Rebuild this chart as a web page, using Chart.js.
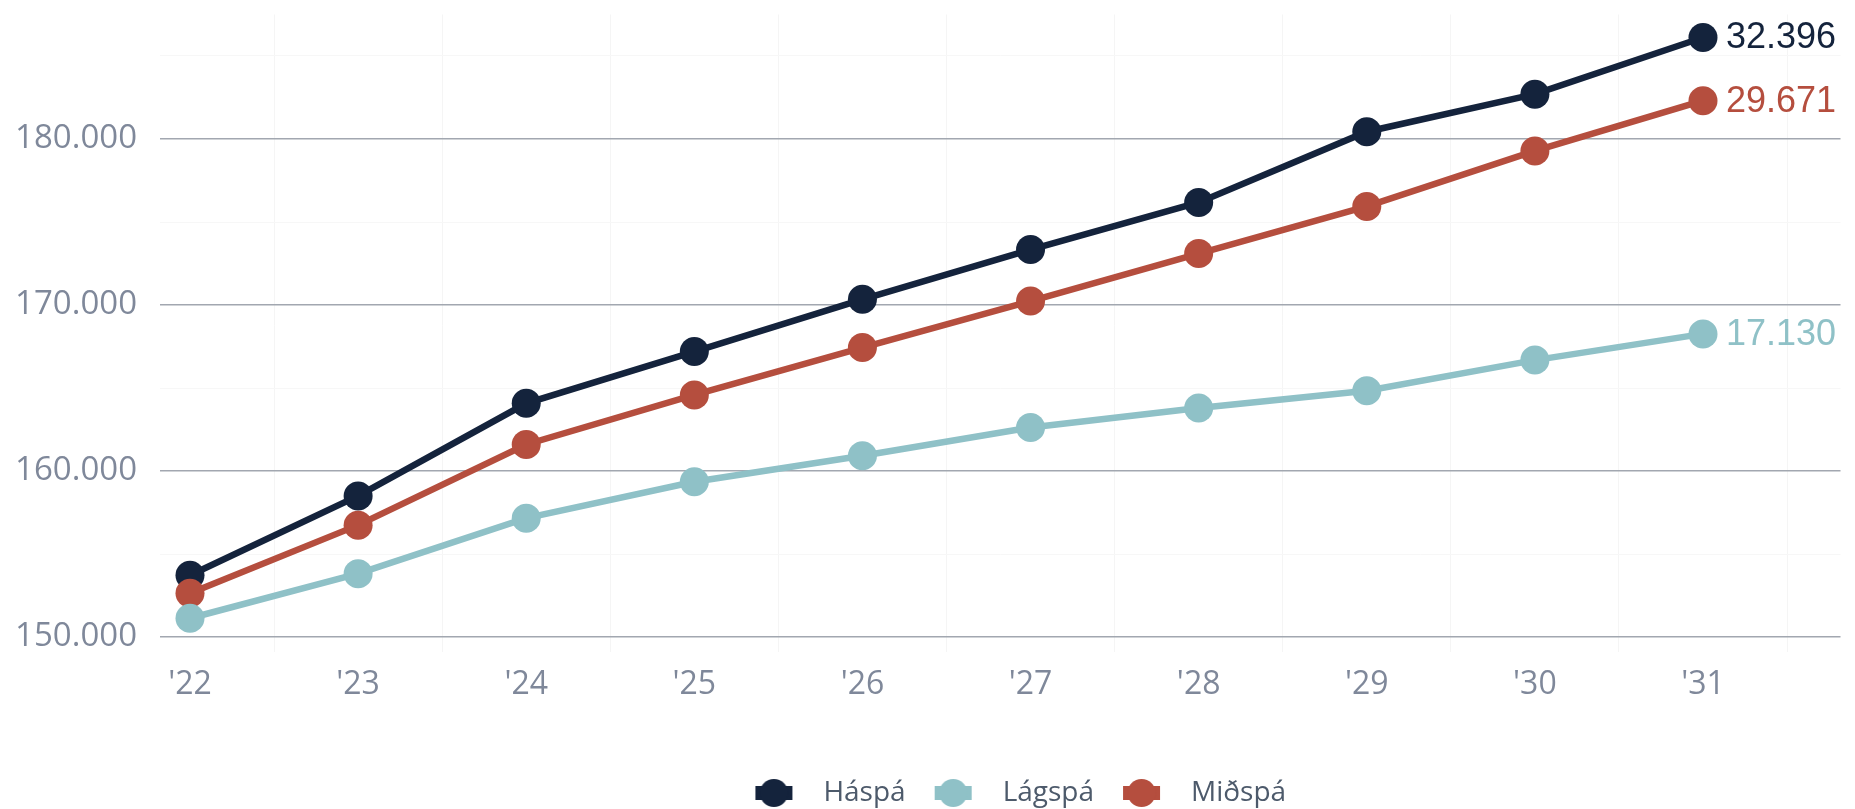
<!DOCTYPE html>
<html>
<head>
<meta charset="utf-8">
<script src="https://cdn.jsdelivr.net/npm/chart.js@4/dist/chart.umd.min.js"></script>
<style>
html,body{margin:0;padding:0;background:#fff;}
canvas{display:block;}
</style>
</head>
<body>
<canvas id="c" width="1855" height="809"></canvas>
<script>
// ---- data ----
const categories = ["'22","'23","'24","'25","'26","'27","'28","'29","'30","'31"];
const seriesNames = ['Háspá', 'Lágspá', 'Miðspá'];
const haspa  = [153720, 158496, 164076, 167196, 170340, 173340, 176178, 180438, 182700, 186116];
const lagspa = [151130, 153816, 157158, 159350, 160920, 162618, 163800, 164838, 166680, 168260];
const midspa = [152635, 156738, 161598, 164580, 167436, 170238, 173100, 175938, 179280, 182306];
const yTickValues = [150000, 155000, 160000, 165000, 170000, 175000, 180000, 185000];
const yLabelValues = [150000, 160000, 170000, 180000];

const colors = ['#14233c', '#8fc1c7', '#b54e3e'];
const AXIS_FONT = "'Open Sans', 'Noto Sans', sans-serif";

function fmt(n){ return String(Math.round(n)).replace(/\B(?=(\d{3})+(?!\d))/g, '.'); }

const LEG_PAD = 23;
function legendMarker(color){
  const a = LEG_PAD, w = a + 54, h = 28;
  const c = document.createElement('canvas');
  c.width = w; c.height = h;
  const g = c.getContext('2d');
  g.fillStyle = color;
  g.fillRect(a, 7, 37, 14);
  g.beginPath(); g.arc(a + 18.5, 14, 14, 0, Math.PI*2); g.fill();
  return c;
}
const markers = colors.map(legendMarker);

function toPoints(arr){ return arr.map((v,i)=>({x:i, y:v})); }

const allSeries = [haspa, lagspa, midspa];
const datasets = allSeries.map((arr, i) => ({
  label: seriesNames[i],
  data: toPoints(arr),
  borderColor: colors[i],
  backgroundColor: colors[i],
  pointBackgroundColor: colors[i],
  pointBorderColor: colors[i],
  pointBorderWidth: 0,
  pointRadius: 14.5,
  pointHoverRadius: 14.5,
  borderWidth: 6.5,
  pointStyle: 'circle',
  tension: 0,
  clip: false,
  order: [3, 1, 2][i]
}));

const endLabelPlugin = {
  id: 'endLabels',
  afterDatasetsDraw(chart){
    const ctx = chart.ctx;
    ctx.save();
    ctx.font = "36px 'Liberation Sans', Arial, sans-serif";
    ctx.textAlign = 'left';
    ctx.textBaseline = 'middle';
    chart.data.datasets.forEach((ds, i) => {
      const meta = chart.getDatasetMeta(i);
      const pt = meta.data[meta.data.length - 1];
      const arr = allSeries[i];
      const txt = fmt(arr[arr.length - 1] - arr[0]);
      ctx.fillStyle = colors[i];
      ctx.fillText(txt, pt.x + 23, pt.y + 1);
    });
    ctx.restore();
  }
};

const legendShiftPlugin = {
  id: 'legendShift',
  afterLayout(chart){
    if (chart.legend) { chart.legend.left += 9; chart.legend.right += 9; }
  }
};

const xTickValues = [];
for (let k = 0; k < categories.length; k++) { xTickValues.push(k); xTickValues.push(k + 0.5); }

const chart = new Chart(document.getElementById('c'), {
  type: 'line',
  data: { datasets },
  plugins: [endLabelPlugin, legendShiftPlugin],
  options: {
    responsive: false,
    devicePixelRatio: 1,
    animation: false,
    layout: { padding: { top: 12, right: -12, bottom: -8, left: 0 } },
    plugins: {
      tooltip: { enabled: false },
      legend: {
        position: 'bottom',
        fullSize: false,
        labels: {
          usePointStyle: true,
          pointStyleWidth: LEG_PAD + 54,
          boxHeight: 28,
          padding: 6,
          color: '#4d5a6b',
          font: { family: AXIS_FONT, size: 28 },
          sort: (a, b) => a.datasetIndex - b.datasetIndex,
          generateLabels(chart){
            return chart.data.datasets.map((ds, i) => ({
              text: ds.label,
              datasetIndex: i,
              pointStyle: markers[i],
              fillStyle: colors[i],
              strokeStyle: colors[i],
              lineWidth: 0,
              fontColor: '#4d5a6b',
              hidden: false
            }));
          }
        }
      }
    },
    scales: {
      x: {
        type: 'linear',
        min: -0.1785,
        max: 9.899,
        afterBuildTicks(scale){ scale.ticks = xTickValues.map(v => ({value: v})).filter(t => t.value >= scale.min && t.value <= scale.max); },
        afterFit(scale){ scale.height = 136; scale.paddingLeft = 0; scale.paddingRight = 0; },
        border: { display: false },
        grid: {
          color: (ctx) => (ctx.tick && ctx.tick.value % 1 !== 0) ? '#f5f5f5' : 'rgba(0,0,0,0)',
          lineWidth: 1,
          drawTicks: true,
          tickLength: 15,
          tickColor: (ctx) => (ctx.tick && ctx.tick.value % 1 !== 0) ? '#f5f5f5' : 'rgba(0,0,0,0)'
        },
        ticks: {
          autoSkip: false,
          maxRotation: 0,
          padding: 14,
          color: '#7f889a',
          font: { family: AXIS_FONT, size: 32 },
          callback: (v) => (v % 1 === 0 ? categories[v] : '')
        }
      },
      y: {
        min: 150000,
        max: 187500,
        afterBuildTicks(scale){ scale.ticks = yTickValues.map(v => ({value: v})); },
        afterFit(scale){ scale.width = 160; scale.paddingTop = 0; scale.paddingBottom = 0; },
        border: { display: false },
        grid: {
          color: (ctx) => (ctx.tick && yLabelValues.includes(ctx.tick.value)) ? '#a2a7b0' : '#f7f7f7',
          lineWidth: (ctx) => (ctx.tick && yLabelValues.includes(ctx.tick.value)) ? 1.5 : 1,
          drawTicks: false
        },
        ticks: {
          padding: 23,
          color: '#7f889a',
          font: { family: AXIS_FONT, size: 33 },
          callback: (v) => (yLabelValues.includes(v) ? fmt(v) : '')
        }
      }
    }
  }
});

(function fitX(){
  const ca = chart.chartArea;
  const first = 190, last = 1703;
  const ppu = (last - first) / (categories.length - 1);
  chart.options.scales.x.min = -(first - ca.left) / ppu;
  chart.options.scales.x.max = (categories.length - 1) + (ca.right - last) / ppu;
  chart.update('none');
})();
</script>
</body>
</html>
